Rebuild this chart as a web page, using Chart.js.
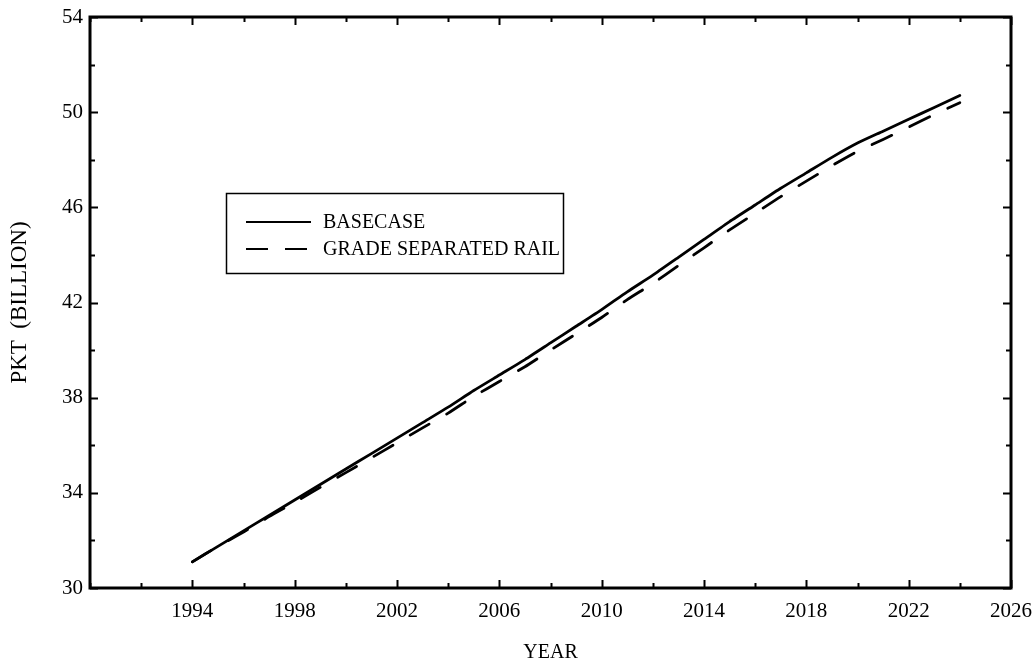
<!DOCTYPE html>
<html>
<head>
<meta charset="utf-8">
<script src="https://cdn.jsdelivr.net/npm/chart.js@4/dist/chart.umd.min.js"></script>
<style>
  html, body { margin: 0; padding: 0; background: #fff; }
  #wrap { width: 1035px; height: 668px; }
</style>
</head>
<body>
<div id="wrap"><canvas id="c" width="1035" height="668"></canvas></div>
<script>
const years = [1994,1995,1996,1997,1998,1999,2000,2001,2002,2003,2004,2005,2006,2007,2008,2009,2010,2011,2012,2013,2014,2015,2016,2017,2018,2019,2020,2021,2022,2023,2024];
const basecase = [31.1,31.75,32.4,33.05,33.7,34.35,35.0,35.65,36.3,36.95,37.6,38.3,38.95,39.6,40.3,41.0,41.7,42.45,43.15,43.9,44.65,45.4,46.1,46.8,47.45,48.1,48.7,49.2,49.7,50.2,50.7];
const gradeSeparated = [31.1,31.75,32.35,33.0,33.6,34.23,34.85,35.47,36.1,36.73,37.35,38.05,38.68,39.3,40.0,40.68,41.37,42.12,42.8,43.55,44.3,45.05,45.75,46.45,47.1,47.75,48.35,48.85,49.37,49.9,50.4];
const seriesNames = ["BASECASE", "GRADE SEPARATED RAIL"];
const xTickLabels = [1994,1998,2002,2006,2010,2014,2018,2022,2026];
const yTickLabels = [30,34,38,42,46,50,54];
const xTitle = "YEAR";
const yTitle = "PKT  (BILLION)";

const FONT = "'Liberation Serif', 'Times New Roman', serif";

const toXY = (ys) => years.map((x, i) => ({x: x, y: ys[i]}));

const frameTicks = {
  id: 'frameTicks',
  afterDraw(chart) {
    const ctx = chart.ctx;
    const a = chart.chartArea;
    const xs = chart.scales.x, ys = chart.scales.y;
    ctx.save();
    ctx.strokeStyle = '#000';
    ctx.lineWidth = 2;
    ctx.lineCap = 'butt';
    xs.ticks.forEach(t => {
      const px = Math.round(xs.getPixelForValue(t.value)) + 0.5;
      const len = xTickLabels.includes(t.value) ? 8 : 5;
      ctx.beginPath();
      ctx.moveTo(px, a.bottom); ctx.lineTo(px, a.bottom - len);
      ctx.moveTo(px, a.top); ctx.lineTo(px, a.top + len);
      ctx.stroke();
    });
    ys.ticks.forEach(t => {
      const py = Math.round(ys.getPixelForValue(t.value)) + 0.5;
      const len = yTickLabels.includes(t.value) ? 8 : 5;
      ctx.beginPath();
      ctx.moveTo(a.left, py); ctx.lineTo(a.left + len, py);
      ctx.moveTo(a.right, py); ctx.lineTo(a.right - len, py);
      ctx.stroke();
    });
    ctx.lineWidth = 3;
    ctx.strokeRect(a.left, a.top, a.right - a.left, a.bottom - a.top);
    ctx.restore();
  }
};

const boxLegend = {
  id: 'boxLegend',
  afterDatasetsDraw(chart) {
    const ctx = chart.ctx;
    ctx.save();
    ctx.strokeStyle = '#000';
    ctx.lineWidth = 1.5;
    ctx.strokeRect(226.5, 193.5, 337, 80);
    ctx.font = '20px ' + FONT;
    ctx.fillStyle = '#000';
    ctx.textBaseline = 'middle';
    const rows = [222, 249];
    chart.data.datasets.forEach((ds, i) => {
      const y = rows[i];
      ctx.beginPath();
      ctx.lineWidth = 2;
      ctx.setLineDash(i === 1 ? [22, 17] : []);
      ctx.moveTo(246, y);
      ctx.lineTo(311, y);
      ctx.stroke();
      ctx.setLineDash([]);
      ctx.fillText(ds.label, 323, y + 1);
    });
    ctx.restore();
  }
};

new Chart(document.getElementById('c'), {
  type: 'line',
  data: {
    datasets: [
      { label: seriesNames[0], data: toXY(basecase), borderColor: '#000', borderWidth: 2.8, pointRadius: 0, fill: false, tension: 0.2, borderCapStyle: 'round' },
      { label: seriesNames[1], data: toXY(gradeSeparated), borderColor: '#000', borderWidth: 2.8, pointRadius: 0, fill: false, tension: 0.2, borderDash: [22, 20], borderCapStyle: 'round' }
    ]
  },
  options: {
    responsive: false,
    animation: false,
    layout: { padding: { left: 0, top: 17, right: 24, bottom: 0 } },
    plugins: { legend: { display: false }, tooltip: { enabled: false } },
    scales: {
      x: {
        type: 'linear', min: 1990, max: 2026,
        grid: { display: false, drawTicks: false },
        border: { display: false },
        ticks: {
          stepSize: 2, autoSkip: false, maxRotation: 0, padding: 11, color: '#000',
          font: { family: FONT, size: 21 },
          callback: v => xTickLabels.includes(v) ? String(v) : ''
        },
        title: { display: true, text: xTitle, color: '#000', font: { family: FONT, size: 20 }, padding: { top: 3, bottom: 3 } },
        afterFit(s) { s.height = 80; s.paddingRight = 0; s.paddingLeft = 0; }
      },
      y: {
        type: 'linear', min: 30, max: 54,
        grid: { display: false, drawTicks: false },
        border: { display: false },
        ticks: {
          stepSize: 2, autoSkip: false, padding: 7, color: '#000',
          font: { family: FONT, size: 21 },
          callback: v => yTickLabels.includes(v) ? String(v) : ''
        },
        title: { display: true, text: yTitle, color: '#000', font: { family: FONT, size: 23 }, padding: { top: 6, bottom: 0 } },
        afterFit(s) { s.width = 90; s.paddingTop = 0; s.paddingBottom = 0; }
      }
    }
  },
  plugins: [frameTicks, boxLegend]
});
</script>
</body>
</html>
